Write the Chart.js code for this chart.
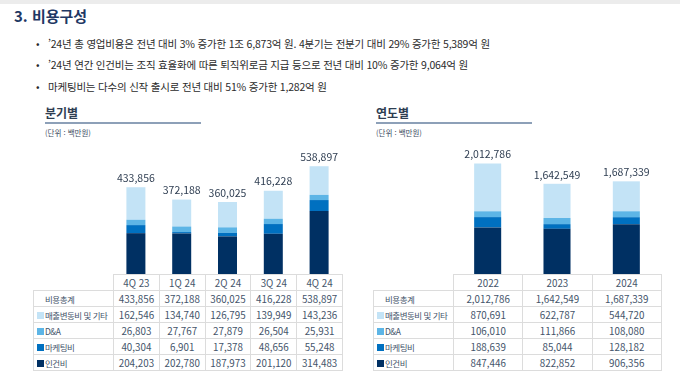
<!DOCTYPE html>
<html lang="ko">
<head>
<meta charset="utf-8">
<script src="https://cdn.jsdelivr.net/npm/chart.js@4.4.1/dist/chart.umd.min.js"></script>
<style>
  html, body { margin: 0; padding: 0; background: #fff; }
  body { width: 680px; height: 386px; position: relative; overflow: hidden;
         font-family: "Noto Sans CJK KR", "Noto Sans", sans-serif; color: #333; }
  .topbar { position: absolute; left: 0; top: 0; width: 680px; height: 4px; background: #ececec; }
  .title { position: absolute; left: 14px; top: 5px; font-size: 15px; font-weight: 700; color: #1f3864; }
  .bullet { position: absolute; left: 36px; font-size: 10.5px; letter-spacing: -0.2px; color: #2b2b2b; white-space: nowrap; }
  .bullet span { display: inline-block; width: 12px; }
  .sub { position: absolute; font-size: 12px; font-weight: 700; color: #2f3e52; }
  .rule { position: absolute; height: 2px; background: #8da0b8; }
  .unit { position: absolute; font-size: 7.5px; color: #3b4a5e; }
  canvas { position: absolute; }
  table { position: absolute; border-collapse: collapse; table-layout: fixed; font-size: 9.8px; color: #44546a; }
  td { border: 1.5px solid #dcdcdc; text-align: center; padding: 0; height: 15px; white-space: nowrap; overflow: hidden; }
  td.lab { text-align: left; font-size: 8.5px; letter-spacing: -0.5px; }
  td.none { border: none; }
  .sq { display: inline-block; width: 7px; height: 7px; margin-right: 1px; vertical-align: -0.5px; }
</style>
</head>
<body>
<div class="topbar"></div>
<div class="title">3. 비용구성</div>
<div class="bullet" style="top:36px"><span>•</span>’24년 총 영업비용은 전년 대비 3% 증가한 1조 6,873억 원. 4분기는 전분기 대비 29% 증가한 5,389억 원</div>
<div class="bullet" style="top:57px"><span>•</span>’24년 연간 인건비는 조직 효율화에 따른 퇴직위로금 지급 등으로 전년 대비 10% 증가한 9,064억 원</div>
<div class="bullet" style="top:79px"><span>•</span>마케팅비는 다수의 신작 출시로 전년 대비 51% 증가한 1,282억 원</div>

<div class="sub" style="left:45px;top:104px">분기별</div>
<div class="rule" style="left:45px;top:122px;width:156px"></div>
<div class="unit" style="left:45px;top:127px">(단위 : 백만원)</div>

<div class="sub" style="left:376px;top:104px">연도별</div>
<div class="rule" style="left:376px;top:122px;width:156px"></div>
<div class="unit" style="left:376px;top:127px">(단위 : 백만원)</div>

<canvas id="quarter-chart" width="229" height="134" style="left:113px;top:140px"></canvas>
<canvas id="year-chart" width="208" height="134" style="left:453px;top:140px"></canvas>

<table id="quarter-table" style="left:33px;top:274px;width:309px"></table>
<table id="year-table" style="left:373px;top:274px;width:288px"></table>

<script>
// 분기별 데이터 (단위: 백만원)
const quarters = ['4Q 23', '1Q 24', '2Q 24', '3Q 24', '4Q 24'];
const qTotal = [433856, 372188, 360025, 416228, 538897];
const qVariable = [162546, 134740, 126795, 139949, 143236];
const qDA = [26803, 27767, 27879, 26504, 25931];
const qMarketing = [40304, 6901, 17378, 48656, 55248];
const qLabor = [204203, 202780, 187973, 201120, 314483];

// 연도별 데이터 (단위: 백만원)
const years = ['2022', '2023', '2024'];
const yTotal = [2012786, 1642549, 1687339];
const yVariable = [870691, 622787, 544720];
const yDA = [106010, 111866, 108080];
const yMarketing = [188639, 85044, 128182];
const yLabor = [847446, 822852, 906356];

const seriesNames = ['인건비', '마케팅비', 'D&A', '매출변동비 및 기타'];
const seriesColors = ['#003063', '#0070c0', '#5db5e6', '#c3e3f6'];

const fmt = v => v.toLocaleString('en-US');

// 막대 위 합계 라벨
const totalLabels = {
    id: 'totalLabels',
    afterDatasetsDraw(chart, args, opts) {
        const ctx = chart.ctx;
        const meta = chart.getDatasetMeta(chart.data.datasets.length - 1);
        ctx.save();
        ctx.font = '10.5px "Noto Sans CJK KR", sans-serif';
        ctx.fillStyle = '#2f3e52';
        ctx.textAlign = 'center';
        ctx.textBaseline = 'bottom';
        meta.data.forEach((bar, i) => {
            ctx.fillText(fmt(opts.totals[i]), bar.x, bar.y - 4);
        });
        ctx.restore();
    }
};

function criarGrafico(id, labels, series, totals, max, barPct) {
    const ctx = document.getElementById(id);
    return new Chart(ctx, {
        type: 'bar',
        data: {
            labels: labels,
            datasets: series.map((data, i) => ({
                label: seriesNames[i],
                data: data,
                backgroundColor: seriesColors[i],
                borderWidth: 0,
                categoryPercentage: 1,
                barPercentage: barPct
            }))
        },
        options: {
            responsive: false,
            animation: false,
            layout: { padding: 0 },
            plugins: {
                legend: { display: false },
                tooltip: { enabled: false },
                totalLabels: { totals: totals }
            },
            scales: {
                x: { stacked: true, display: false, offset: true },
                y: { stacked: true, display: false, min: 0, max: max }
            }
        },
        plugins: [totalLabels]
    });
}

function criarTabela(id, labels, rows, labelWidth, colWidth) {
    const table = document.getElementById(id);
    let html = '<colgroup><col style="width:' + labelWidth + 'px">';
    labels.forEach(() => { html += '<col style="width:' + colWidth + 'px">'; });
    html += '</colgroup>';
    html += '<tr><td class="none"></td>' + labels.map(l => '<td>' + l + '</td>').join('') + '</tr>';
    rows.forEach(r => {
        const sq = r.color ? '<span class="sq" style="background:' + r.color + '"></span>' : '';
        const pad = r.color ? 3 : 11;
        html += '<tr><td class="lab" style="padding-left:' + pad + 'px">' + sq + r.name + '</td>' +
            r.values.map(v => '<td>' + fmt(v) + '</td>').join('') + '</tr>';
    });
    table.innerHTML = html;
}

criarGrafico('quarter-chart', quarters, [qLabor, qMarketing, qDA, qVariable], qTotal, 670000, 0.415);
criarGrafico('year-chart', years, [yLabor, yMarketing, yDA, yVariable], yTotal, 2440000, 0.39);

criarTabela('quarter-table', quarters, [
    { name: '비용총계', values: qTotal },
    { name: seriesNames[3], values: qVariable, color: seriesColors[3] },
    { name: seriesNames[2], values: qDA, color: seriesColors[2] },
    { name: seriesNames[1], values: qMarketing, color: seriesColors[1] },
    { name: seriesNames[0], values: qLabor, color: seriesColors[0] }
], 80, 45.8);

criarTabela('year-table', years, [
    { name: '비용총계', values: yTotal },
    { name: seriesNames[3], values: yVariable, color: seriesColors[3] },
    { name: seriesNames[2], values: yDA, color: seriesColors[2] },
    { name: seriesNames[1], values: yMarketing, color: seriesColors[1] },
    { name: seriesNames[0], values: yLabor, color: seriesColors[0] }
], 80, 69.3);
</script>
</body>
</html>
